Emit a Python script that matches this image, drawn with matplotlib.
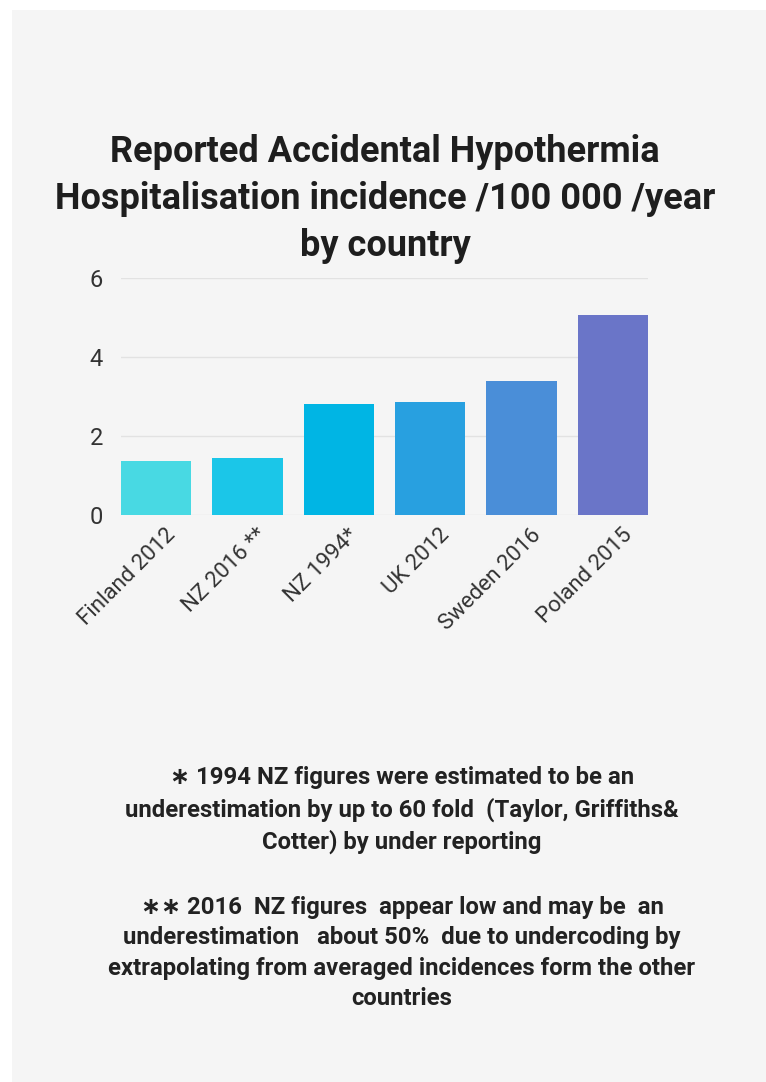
import matplotlib.pyplot as plt
import matplotlib.transforms as mtransforms
from matplotlib.patches import Rectangle

# data
countries = ["Finland 2012", "NZ 2016 **", "NZ 1994*", "UK 2012", "Sweden 2016", "Poland 2015"]
incidence = [1.37, 1.45, 2.81, 2.86, 3.40, 5.07]
bar_colors = ["#48D9E3", "#1BC6E8", "#00B5E4", "#28A0E0", "#4A8ED8", "#6A75C8"]
yticks = [0, 2, 4, 6]

title = ("Reported Accidental Hypothermia\n"
         "Hospitalisation incidence /100 000 /year\n"
         "by country")
note1 = ("\u2217 1994 NZ figures were estimated to be an\n"
         "underestimation by up to 60 fold  (Taylor, Griffiths&\n"
         "Cotter) by under reporting")
note2 = ("\u2217\u2217 2016  NZ figures  appear low and may be  an\n"
         "underestimation   about 50%  due to undercoding by\n"
         "extrapolating from averaged incidences form the other\n"
         "countries")

W, H = 766, 1082
fig = plt.figure(figsize=(W / 100, H / 100), dpi=100)
fig.patch.set_facecolor("white")
# grey card behind everything
fig.patches.append(Rectangle((12 / W, 0), 1, 1 - 10 / H, transform=fig.transFigure,
                             facecolor="#F5F5F5", edgecolor="none", zorder=-5))

ax = fig.add_axes([121 / W, 1 - 515 / H, (648 - 121) / W, (515 - 278) / H])
ax.set_facecolor("none")
width = 0.77
ax.bar(range(len(countries)), incidence, width=width, color=bar_colors, zorder=3)
ax.set_xlim(-width / 2, len(countries) - 1 + width / 2)
ax.set_ylim(0, 6)
ax.set_yticks(yticks)
ax.grid(axis="y", color="#E2E2E2", linewidth=1, zorder=0)
for s in ax.spines.values():
    s.set_visible(False)
ax.tick_params(length=0, labelcolor="#333333")
ax.tick_params(axis="x", pad=7)
ax.tick_params(axis="y", labelsize=17, pad=13)
ax.set_xticks(range(len(countries)))
ax.set_xticklabels(countries, rotation=45, ha="right", rotation_mode="anchor",
                   fontsize=16, family="Roboto")
shift = mtransforms.ScaledTranslation(9 / 100, 0, fig.dpi_scale_trans)
for t in ax.get_xticklabels():
    t.set_transform(t.get_transform() + shift)
for t in ax.get_yticklabels():
    t.set_family("Roboto")

fig.text(385 / W, 1 - 199 / H, title, ha="center", va="center", fontsize=26,
         fontweight="bold", family="Roboto", color="#1E1E1E", linespacing=1.38)
fig.text(402 / W, 1 - 810 / H, note1, ha="center", va="center", fontsize=17.2,
         fontweight="bold", family=["Roboto", "DejaVu Sans"], color="#222222",
         linespacing=1.4)
fig.text(402 / W, 1 - 953 / H, note2, ha="center", va="center", fontsize=17.2,
         fontweight="bold", family=["Roboto", "DejaVu Sans"], color="#222222",
         linespacing=1.4)

fig.savefig("out.png", dpi=100)
